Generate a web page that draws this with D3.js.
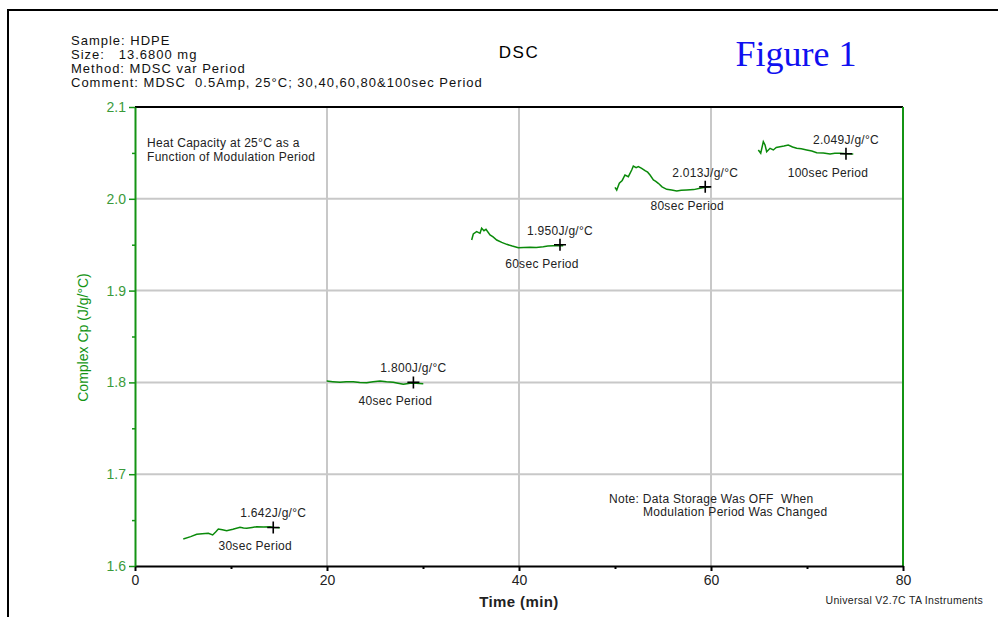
<!DOCTYPE html>
<html>
<head>
<meta charset="utf-8">
<script src="https://cdn.jsdelivr.net/npm/d3@7"></script>
<style>
  body { margin: 0; background: #fff; }
  svg { display: block; font-family: "Liberation Sans", Arial, sans-serif; }
  .grid line { stroke: #c8c8c8; stroke-width: 2; }
  .note { font-size: 12px; fill: #222; letter-spacing: 0.3px; }
</style>
</head>
<body>
<div id="chart"></div>
<script>
// header lines
const headerLines = [
  'Sample: HDPE',
  'Size:   13.6800 mg',
  'Method: MDSC var Period',
  'Comment: MDSC  0.5Amp, 25°C; 30,40,60,80&100sec Period'
];

// Complex Cp segments, [time (min), Cp (J/g/°C)]
const seg30 = [[5.03,1.6294],[5.8,1.6320],[6.43,1.6345],[7.0,1.6352],[7.64,1.6356],[8.09,1.6338],[8.4,1.6370],[8.68,1.6403],[9.1,1.6395],[9.55,1.6385],[10.2,1.6400],[10.94,1.6422],[11.3,1.6415],[11.64,1.6411],[12.2,1.6420],[12.68,1.6428],[13.4,1.6426],[14.06,1.6428],[14.5,1.6420],[15.1,1.6417]];
const seg40 = [[19.97,1.8015],[20.6,1.8008],[21.35,1.8001],[22.0,1.8006],[22.74,1.8008],[23.4,1.8000],[24.14,1.7997],[24.8,1.8008],[25.52,1.8015],[26.2,1.8006],[26.9,1.8001],[27.4,1.7990],[27.95,1.7979],[28.3,1.7985],[28.65,1.7990],[29.3,1.7992],[30.03,1.7986]];
const seg60 = [[35.07,1.9551],[35.24,1.9617],[35.59,1.9642],[35.94,1.9624],[36.11,1.9679],[36.35,1.9653],[36.56,1.9668],[36.98,1.9606],[37.3,1.9585],[37.68,1.9551],[38.2,1.9525],[38.72,1.9504],[39.3,1.9485],[39.93,1.9467],[40.5,1.9470],[41.15,1.9472],[41.8,1.9470],[42.53,1.9478],[43.0,1.9485],[43.57,1.9489],[44.1,1.9492],[44.61,1.9489]];
const seg80 = [[50.0,2.0125],[50.18,2.0096],[50.45,2.0169],[50.75,2.0200],[51.04,2.0259],[51.39,2.0241],[51.74,2.0314],[51.91,2.0357],[52.2,2.0340],[52.43,2.0350],[52.78,2.0332],[53.13,2.0306],[53.4,2.0290],[53.65,2.0259],[54.0,2.0205],[54.25,2.0190],[54.51,2.0169],[54.9,2.0130],[55.39,2.0103],[55.9,2.0095],[56.43,2.0085],[56.9,2.0094],[57.47,2.0096],[58.2,2.0100],[58.85,2.0114],[59.4,2.0125],[59.9,2.0132]];
const seg100 = [[64.93,2.0532],[65.18,2.0496],[65.45,2.0622],[65.63,2.0586],[65.8,2.0513],[66.15,2.0550],[66.49,2.0532],[66.8,2.0560],[67.19,2.0568],[67.6,2.0575],[68.05,2.0586],[68.5,2.0565],[68.93,2.0550],[69.4,2.0545],[69.97,2.0532],[70.5,2.0520],[71.01,2.0502],[71.7,2.0498],[72.4,2.0488],[72.9,2.0495],[73.44,2.0496],[74.1,2.0490],[74.82,2.0488]];
const segments = [seg30, seg40, seg60, seg80, seg100];

// cursor marks with their readouts
const markTime = [14.4, 29.0, 44.27, 59.4, 74.06];
const markCp = [1.642, 1.800, 1.950, 2.013, 2.049];
const markLabel = ['1.642J/g/°C', '1.800J/g/°C', '1.950J/g/°C', '2.013J/g/°C', '2.049J/g/°C'];
const periodLabel = ['30sec Period', '40sec Period', '60sec Period', '80sec Period', '100sec Period'];

const xTicks = [0, 20, 40, 60, 80];
const xMinor = [10, 30, 50, 70];
const yTicks = [1.6, 1.7, 1.8, 1.9, 2.0, 2.1];
const yMinor = [1.65, 1.75, 1.85, 1.95, 2.05];

const W = 998, H = 617;
const margin = {top: 107, right: 95, bottom: 51, left: 135};
const width = W - margin.left - margin.right,
  height = H - margin.top - margin.bottom;
const green = '#149414';

const x = d3.scaleLinear().domain([0, 80]).range([0, width]);
const y = d3.scaleLinear().domain([1.6, 2.1]).range([height, 0]);

const svg = d3.select('#chart').append('svg')
  .attr('width', W)
  .attr('height', H);

// page frame
svg.append('path')
  .attr('d', `M8,${H} V10 H${W}`)
  .attr('fill', 'none')
  .attr('stroke', '#000')
  .attr('stroke-width', 2);

// header
svg.append('g').selectAll('text')
  .data(headerLines)
  .enter().append('text')
    .attr('x', 71)
    .attr('y', (d, i) => 45 + i * 14)
    .attr('font-size', 13)
    .attr('letter-spacing', 1)
    .attr('fill', '#111')
    .attr('xml:space', 'preserve')
    .text(d => d);

svg.append('text')
  .attr('x', 519).attr('y', 58)
  .attr('text-anchor', 'middle')
  .attr('font-size', 17)
  .attr('letter-spacing', 1.5)
  .text('DSC');

svg.append('text')
  .attr('x', 796).attr('y', 66)
  .attr('text-anchor', 'middle')
  .attr('font-family', '"Liberation Serif", "Times New Roman", serif')
  .attr('font-size', 36)
  .attr('fill', '#1010f0')
  .text('Figure 1');

const g = svg.append('g')
  .attr('transform', `translate(${margin.left},${margin.top})`);

// grid
g.append('g').attr('class', 'grid')
  .selectAll('line')
  .data(xTicks.slice(1, -1))
  .enter().append('line')
    .attr('x1', d => x(d)).attr('x2', d => x(d))
    .attr('y1', 0).attr('y2', height);

g.append('g').attr('class', 'grid')
  .selectAll('line')
  .data(yTicks.slice(1, -1))
  .enter().append('line')
    .attr('x1', 0).attr('x2', width)
    .attr('y1', d => y(d)).attr('y2', d => y(d));

// frame top (black) and right (green)
g.append('line')
  .attr('x1', 0).attr('x2', width).attr('y1', 0).attr('y2', 0)
  .attr('stroke', '#000').attr('stroke-width', 2);
g.append('line')
  .attr('x1', width).attr('x2', width).attr('y1', 0).attr('y2', height)
  .attr('stroke', green).attr('stroke-width', 2);

// x axis
let xAxis = g.append('g')
  .attr('transform', `translate(0,${height})`)
  .call(d3.axisBottom(x).tickValues(xTicks).tickFormat(d3.format('d')).tickSize(5).tickSizeOuter(0));
xAxis.select('.domain').attr('stroke', '#000').attr('stroke-width', 2);
xAxis.selectAll('.tick line').attr('stroke-width', 2);
xAxis.selectAll('.tick text')
  .attr('font-size', 14)
  .attr('font-family', '"Liberation Sans", Arial, sans-serif')
  .attr('fill', '#222')
  .attr('dy', '0.8em');
g.append('g')
  .attr('transform', `translate(0,${height})`)
  .call(d3.axisBottom(x).tickValues(xMinor).tickFormat('').tickSize(3).tickSizeOuter(0))
  .call(a => a.select('.domain').remove())
  .selectAll('line').attr('stroke-width', 2);

// y axis
let yAxis = g.append('g')
  .call(d3.axisLeft(y).tickValues(yTicks).tickFormat(d3.format('.1f')).tickSize(6).tickSizeOuter(0));
yAxis.select('.domain').attr('stroke', green).attr('stroke-width', 2);
yAxis.selectAll('.tick line').attr('stroke', green).attr('stroke-width', 1.5);
yAxis.selectAll('.tick text')
  .attr('font-size', 14)
  .attr('font-family', '"Liberation Sans", Arial, sans-serif')
  .attr('fill', '#3a9a3a');
g.append('g')
  .call(d3.axisLeft(y).tickValues(yMinor).tickFormat('').tickSize(3).tickSizeOuter(0))
  .call(a => a.select('.domain').remove())
  .selectAll('line').attr('stroke', green).attr('stroke-width', 1.5);

// axis titles
svg.append('text')
  .attr('transform', `translate(88,${margin.top + height / 2 + 1}) rotate(-90)`)
  .attr('text-anchor', 'middle')
  .attr('font-size', 14)
  .attr('fill', green)
  .text('Complex Cp (J/g/°C)');

svg.append('text')
  .attr('x', 519).attr('y', 607)
  .attr('text-anchor', 'middle')
  .attr('font-size', 15)
  .attr('letter-spacing', 0.4)
  .attr('font-weight', 'bold')
  .attr('fill', '#222')
  .text('Time (min)');

svg.append('text')
  .attr('x', 983).attr('y', 604)
  .attr('text-anchor', 'end')
  .attr('class', 'note')
  .style('font-size', '10.5px')
  .text('Universal V2.7C TA Instruments');

// data
const line = d3.line().x(d => x(d[0])).y(d => y(d[1]));
g.append('g').selectAll('path')
  .data(segments)
  .enter().append('path')
    .attr('d', line)
    .attr('fill', 'none')
    .attr('stroke', '#0a8a0a')
    .attr('stroke-width', 1.5);

// cursor marks
const marks = g.append('g').selectAll('g')
  .data(markTime.map((t, i) => ({t: t, cp: markCp[i], label: markLabel[i], period: periodLabel[i]})))
  .enter().append('g')
    .attr('transform', d => `translate(${x(d.t)},${y(d.cp)})`);

marks.append('path')
  .attr('d', 'M-6,0H6M0,-6V6')
  .attr('stroke', '#000')
  .attr('stroke-width', 1.6);

marks.append('text')
  .attr('class', 'note')
  .attr('y', -10)
  .attr('text-anchor', 'middle')
  .text(d => d.label);

marks.append('text')
  .attr('class', 'note')
  .attr('x', -18).attr('y', 23)
  .attr('text-anchor', 'middle')
  .text(d => d.period);

// annotations
svg.append('g').selectAll('text')
  .data(['Heat Capacity at 25°C as a', 'Function of Modulation Period'])
  .enter().append('text')
    .attr('class', 'note')
    .attr('x', 147)
    .attr('y', (d, i) => 147 + i * 14)
    .text(d => d);

svg.append('text')
  .attr('class', 'note')
  .attr('x', 609).attr('y', 503)
  .attr('xml:space', 'preserve')
  .text('Note: Data Storage Was OFF  When');
svg.append('text')
  .attr('class', 'note')
  .attr('x', 643).attr('y', 516)
  .text('Modulation Period Was Changed');
</script>
</body>
</html>
